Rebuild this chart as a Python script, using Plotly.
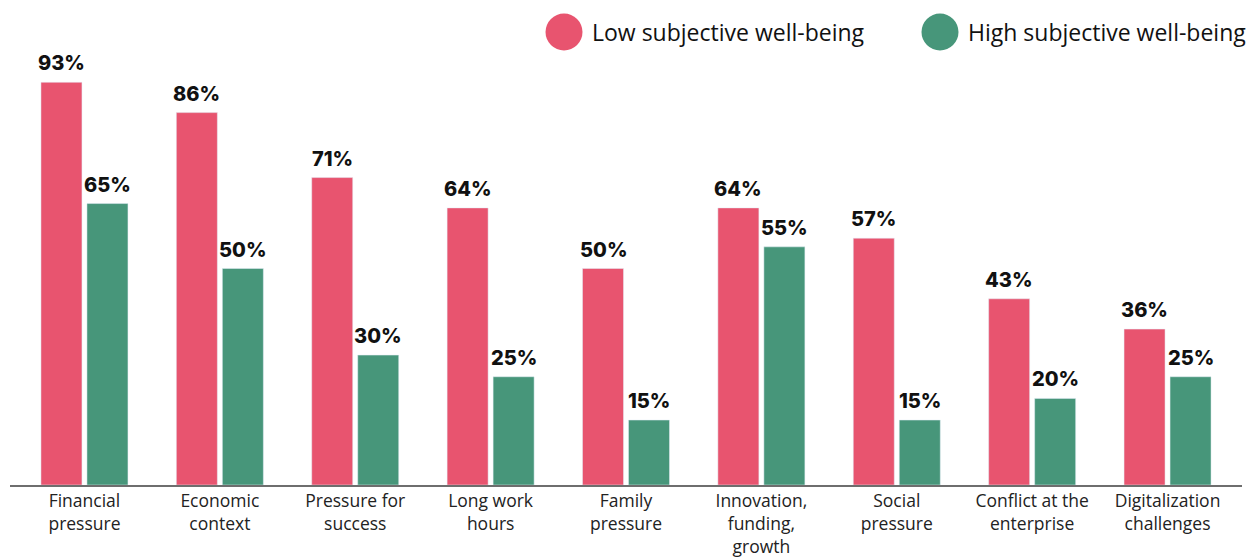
import plotly.graph_objects as go

# Stress factors by subjective well-being group (% of respondents)
categories = [
    "Financial<br>pressure",
    "Economic<br>context",
    "Pressure for<br>success",
    "Long work<br>hours",
    "Family<br>pressure",
    "Innovation,<br>funding,<br>growth",
    "Social<br>pressure",
    "Conflict at the<br>enterprise",
    "Digitalization<br>challenges",
]
low_wellbeing = [93, 86, 71, 64, 50, 64, 57, 43, 36]
high_wellbeing = [65, 50, 30, 25, 15, 55, 15, 20, 25]
series_names = ["Low subjective well-being", "High subjective well-being"]

RED = "#e8546f"
GREEN = "#47967a"

W, H = 1257, 557
ML, MR, MT, MB = 10, 15, 52, 72
PW = W - ML - MR
PH = H - MT - MB

fig = go.Figure()
fig.add_trace(go.Bar(x=list(range(len(categories))), y=low_wellbeing,
                     name=series_names[0], marker_color=RED, showlegend=False))
fig.add_trace(go.Bar(x=list(range(len(categories))), y=high_wellbeing,
                     name=series_names[1], marker_color=GREEN, showlegend=False))

# value labels above each bar
annotations = []
for i in range(len(categories)):
    for vals, shift in ((low_wellbeing, -23), (high_wellbeing, 23)):
        annotations.append(dict(
            x=i, y=vals[i], xref="x", yref="y", text=f"{vals[i]}%",
            showarrow=False, xanchor="center", yanchor="bottom",
            xshift=shift, yshift=5,
            font=dict(family="Inter", size=20, color="#111111", weight=800),
        ))

# custom legend: large dots with labels
shapes = []
legend_items = [(564, 590, RED, series_names[0]), (940, 966, GREEN, series_names[1])]
for cx, tx, color, label in legend_items:
    shapes.append(dict(
        type="circle", xref="paper", yref="paper",
        xsizemode="pixel", ysizemode="pixel",
        xanchor=(cx - ML) / PW, yanchor=(H - MB - 32) / PH,
        x0=-18.5, x1=18.5, y0=-18.5, y1=18.5,
        fillcolor=color, line=dict(width=0),
    ))
    annotations.append(dict(
        x=(tx - ML) / PW, y=(H - MB - 32) / PH, xref="paper", yref="paper",
        text=label, showarrow=False, xanchor="left", yanchor="middle",
        font=dict(family="Open Sans", size=23, color="#111111"),
    ))

fig.update_layout(
    width=W, height=H,
    margin=dict(l=ML, r=MR, t=MT, b=MB),
    paper_bgcolor="white", plot_bgcolor="white",
    barmode="group", bargap=0.3204, bargroupgap=0.1087,
    annotations=annotations, shapes=shapes,
    xaxis=dict(
        tickmode="array", tickvals=list(range(len(categories))), ticktext=categories,
        range=[-0.55, 8.55], showgrid=False, zeroline=False, automargin=False,
        showline=True, linecolor="#6e6e6e", linewidth=2, ticks="",
        ticklabelstandoff=-1,
        tickfont=dict(family="Open Sans", size=17.5, color="#222222"),
    ),
    yaxis=dict(range=[0, 100], visible=False, showgrid=False, zeroline=False,
               automargin=False),
)

fig.write_html("out.html")
